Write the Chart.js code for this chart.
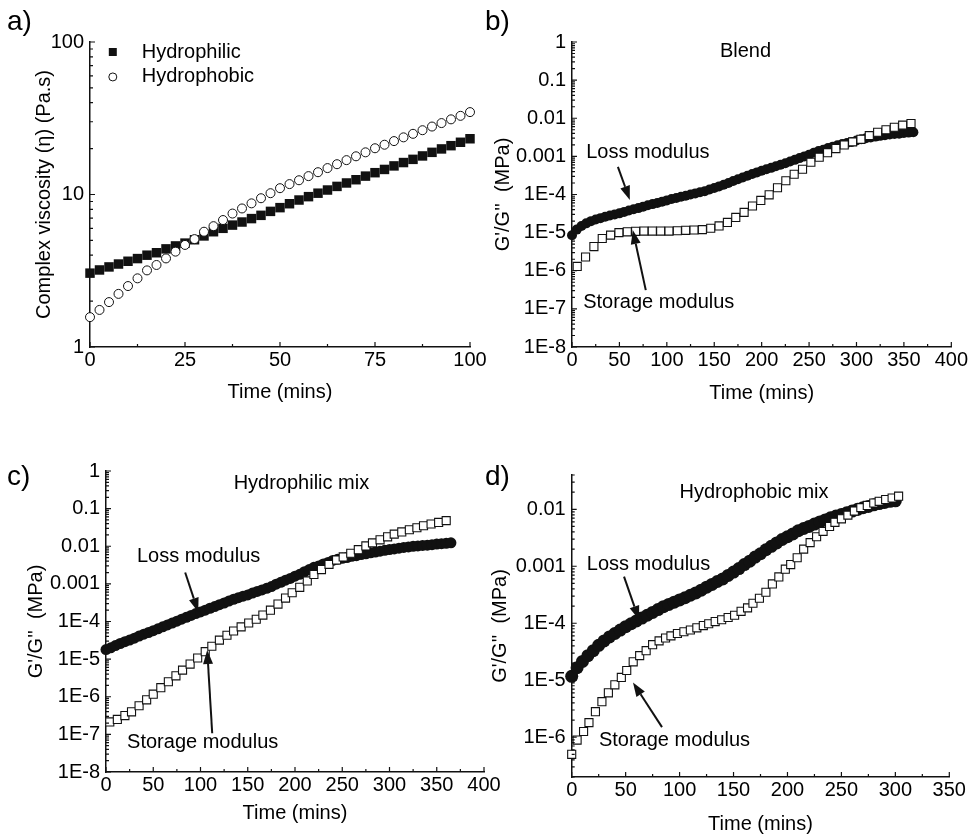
<!DOCTYPE html>
<html>
<head>
<meta charset="utf-8">
<title>Complex viscosity and G'/G'' against time</title>
<script src="https://cdn.jsdelivr.net/npm/chart.js@4.4.1/dist/chart.umd.min.js"></script>
<style>
  html, body { margin: 0; padding: 0; background: #fff; }
  #fig { position: relative; width: 969px; height: 834px; overflow: hidden; background: #fff; }
  #fig canvas { position: absolute; left: 0; top: 0; }
  .panel-tag { position: absolute; font: 28px/28px "Liberation Sans", Arial, sans-serif; color: #000; }
</style>
</head>
<body>
<div id="fig">
  <canvas id="chart-a" width="969" height="834"></canvas>
  <canvas id="chart-b" width="969" height="834"></canvas>
  <canvas id="chart-c" width="969" height="834"></canvas>
  <canvas id="chart-d" width="969" height="834"></canvas>
  <div class="panel-tag" style="left:7px;top:7px">a)</div>
  <div class="panel-tag" style="left:485px;top:7px">b)</div>
  <div class="panel-tag" style="left:7px;top:462px">c)</div>
  <div class="panel-tag" style="left:485px;top:462px">d)</div>
</div>
<script>
const FONT = '"Liberation Sans", Arial, Helvetica, sans-serif';
const INK = '#111';
Chart.defaults.font.family = FONT;
Chart.defaults.font.size = 20;
Chart.defaults.color = '#000';

// ---- a) complex viscosity (Pa.s) vs time (mins)
const aTime = [0, 2.5, 5, 7.5, 10, 12.5, 15, 17.5, 20, 22.5, 25, 27.5, 30, 32.5, 35, 37.5, 40, 42.5, 45, 47.5,
  50, 52.5, 55, 57.5, 60, 62.5, 65, 67.5, 70, 72.5, 75, 77.5, 80, 82.5, 85, 87.5, 90, 92.5, 95, 97.5, 100];
const aHydrophilic = [3.05, 3.2, 3.35, 3.5, 3.65, 3.8, 4.0, 4.15, 4.4, 4.6, 4.8, 5.05, 5.35, 5.7, 6.0, 6.3, 6.6, 6.95, 7.3, 7.75,
  8.2, 8.7, 9.2, 9.68, 10.2, 10.7, 11.3, 11.9, 12.5, 13.2, 13.9, 14.6, 15.4, 16.2, 17.0, 17.9, 18.9, 19.9, 20.9, 22.0, 23.2];
const aHydrophobic = [1.57, 1.75, 1.97, 2.23, 2.51, 2.82, 3.18, 3.45, 3.81, 4.22, 4.67, 5.1, 5.7, 6.2, 6.8, 7.5, 8.1, 8.75, 9.45, 10.2,
  11.0, 11.7, 12.4, 13.2, 14.0, 14.9, 15.8, 16.8, 17.8, 18.9, 20.1, 21.2, 22.4, 23.7, 25.0, 26.4, 27.9, 29.4, 31.1, 32.8, 34.7];
const aXTicks = [0, 25, 50, 75, 100];
const aYTicks = [1, 10, 100];
const aYLabels = ['1', '10', '100'];

// ---- b) blend, G' (storage) and G'' (loss) in MPa
const bLossTime = [0, 5, 10, 15, 20, 25, 30, 35, 40, 45, 50, 55, 60, 65, 70, 75, 80, 85, 90, 95, 100, 105, 110, 115, 120,
  125, 130, 135, 140, 145, 150, 155, 160, 165, 170, 175, 180, 185, 190, 195, 200, 205, 210, 215, 220, 225, 230, 235, 240,
  245, 250, 255, 260, 265, 270, 275, 280, 285, 290, 295, 300, 305, 310, 315, 320, 325, 330, 335, 340, 345, 350, 355, 360];
const bLoss = [8.5e-6, 1.2e-5, 1.5e-5, 1.75e-5, 2.0e-5, 2.2e-5, 2.4e-5, 2.6e-5, 2.8e-5, 3.0e-5, 3.2e-5, 3.5e-5, 3.8e-5,
  4.1e-5, 4.4e-5, 4.8e-5, 5.2e-5, 5.6e-5, 6.0e-5, 6.5e-5, 7.0e-5, 7.6e-5, 8.1e-5, 8.7e-5, 9.3e-5, 1.0e-4, 1.07e-4,
  1.14e-4, 1.22e-4, 1.35e-4, 1.48e-4, 1.63e-4, 1.8e-4, 2.0e-4, 2.25e-4, 2.5e-4, 2.8e-4, 3.1e-4, 3.45e-4, 3.8e-4,
  4.2e-4, 4.6e-4, 5.0e-4, 5.5e-4, 6.0e-4, 6.6e-4, 7.3e-4, 8.1e-4, 9.0e-4, 1.0e-3, 1.1e-3, 1.25e-3, 1.38e-3, 1.5e-3,
  1.65e-3, 1.8e-3, 1.95e-3, 2.1e-3, 2.25e-3, 2.4e-3, 2.6e-3, 2.8e-3, 3.0e-3, 3.15e-3, 3.3e-3, 3.45e-3, 3.6e-3,
  3.75e-3, 3.85e-3, 3.95e-3, 4.1e-3, 4.2e-3, 4.3e-3];
const bStorageTime = [5.5, 14.3, 23.1, 31.9, 40.7, 49.5, 58.3, 67.1, 75.9, 84.7, 93.5, 102.3, 111.1, 119.9, 128.7, 137.5,
  146.3, 155.1, 163.9, 172.7, 181.5, 190.3, 199.1, 207.9, 216.7, 225.5, 234.3, 243.1, 251.9, 260.7, 269.5, 278.3,
  287.1, 295.9, 304.7, 313.5, 322.3, 331.1, 339.9, 348.7, 357.5];
const bStorage = [1.3e-6, 2.3e-6, 4.3e-6, 7.0e-6, 8.6e-6, 1.0e-5, 1.05e-5, 1.08e-5, 1.1e-5, 1.1e-5, 1.1e-5, 1.1e-5,
  1.12e-5, 1.15e-5, 1.17e-5, 1.2e-5, 1.3e-5, 1.5e-5, 1.85e-5, 2.5e-5, 3.4e-5, 5.0e-5, 7.0e-5, 9.8e-5, 1.5e-4, 2.3e-4,
  3.4e-4, 4.6e-4, 7.0e-4, 9.5e-4, 1.25e-3, 1.6e-3, 2.0e-3, 2.4e-3, 2.8e-3, 3.5e-3, 4.3e-3, 5.0e-3, 5.8e-3, 6.6e-3, 7.3e-3];

// ---- c) hydrophilic mix
const cLossTime = [0, 5, 10, 15, 20, 25, 30, 35, 40, 45, 50, 55, 60, 65, 70, 75, 80, 85, 90, 95, 100, 105, 110, 115, 120,
  125, 130, 135, 140, 145, 150, 155, 160, 165, 170, 175, 180, 185, 190, 195, 200, 205, 210, 215, 220, 225, 230, 235, 240,
  245, 250, 255, 260, 265, 270, 275, 280, 285, 290, 295, 300, 305, 310, 315, 320, 325, 330, 335, 340, 345, 350, 355, 360, 365];
const cLoss = [1.8e-5, 2.0e-5, 2.3e-5, 2.6e-5, 2.9e-5, 3.2e-5, 3.6e-5, 4.1e-5, 4.6e-5, 5.1e-5,
  5.7e-5, 6.4e-5, 7.2e-5, 8.1e-5, 9.1e-5, 1.02e-4, 1.15e-4, 1.29e-4, 1.45e-4, 1.62e-4,
  1.8e-4, 2.0e-4, 2.25e-4, 2.5e-4, 2.8e-4, 3.1e-4, 3.5e-4, 3.9e-4, 4.3e-4, 4.7e-4,
  5.1e-4, 5.7e-4, 6.3e-4, 6.9e-4, 7.6e-4, 8.5e-4, 9.8e-4, 1.1e-3, 1.25e-3, 1.4e-3,
  1.6e-3, 1.8e-3, 2.1e-3, 2.4e-3, 2.75e-3, 3.0e-3, 3.4e-3, 3.7e-3, 4.2e-3, 4.5e-3,
  4.8e-3, 5.0e-3, 5.4e-3, 5.6e-3, 6.0e-3, 6.3e-3, 6.7e-3, 7.0e-3, 7.4e-3, 7.8e-3,
  8.2e-3, 8.5e-3, 8.9e-3, 9.3e-3, 9.6e-3, 1.0e-2, 1.02e-2, 1.05e-2, 1.07e-2, 1.1e-2,
  1.14e-2, 1.17e-2, 1.2e-2, 1.23e-2];
const cStorageTime = [4, 12, 20, 27, 35, 43, 50, 58, 66, 74, 81, 89, 97, 105, 112, 120, 128, 135, 143, 151, 159, 166, 174,
  182, 190, 197, 205, 213, 220, 228, 236, 244, 251, 259, 267, 275, 282, 290, 298, 305, 313, 321, 329, 336, 344, 352, 360];
const cStorage = [2.14e-7, 2.5e-7, 3.16e-7, 3.98e-7, 5.75e-7, 8.3e-7, 1.17e-6, 1.74e-6, 2.5e-6, 3.6e-6, 5.1e-6, 7.4e-6,
  1.07e-5, 1.58e-5, 2.2e-5, 3.2e-5, 4.3e-5, 5.6e-5, 7.2e-5, 9.1e-5, 1.15e-4, 1.48e-4, 2.0e-4, 2.9e-4, 4.2e-4, 5.8e-4,
  8.1e-4, 1.2e-3, 1.78e-3, 2.4e-3, 3.3e-3, 4.3e-3, 5.2e-3, 6.5e-3, 8.1e-3, 1.02e-2, 1.23e-2, 1.48e-2, 1.78e-2, 2.1e-2,
  2.4e-2, 2.75e-2, 3.1e-2, 3.5e-2, 3.9e-2, 4.3e-2, 4.8e-2];

// ---- d) hydrophobic mix
const dLossTime = [0, 5, 10, 15, 20, 25, 30, 35, 40, 45, 50, 55, 60, 65, 70, 75, 80, 85, 90, 95, 100, 105, 110, 115, 120,
  125, 130, 135, 140, 145, 150, 155, 160, 165, 170, 175, 180, 185, 190, 195, 200, 205, 210, 215, 220, 225, 230, 235, 240,
  245, 250, 255, 260, 265, 270, 275, 280, 285, 290, 295, 300];
const dLoss = [1.17e-5, 1.66e-5, 2.14e-5, 2.7e-5, 3.3e-5, 4.1e-5, 4.9e-5, 5.75e-5, 6.6e-5, 7.6e-5,
  8.7e-5, 9.8e-5, 1.1e-4, 1.23e-4, 1.38e-4, 1.55e-4, 1.74e-4, 1.95e-4, 2.14e-4, 2.34e-4,
  2.57e-4, 2.8e-4, 3.1e-4, 3.4e-4, 3.8e-4, 4.3e-4, 4.8e-4, 5.4e-4, 6.0e-4, 6.9e-4,
  7.9e-4, 9.1e-4, 1.07e-3, 1.23e-3, 1.45e-3, 1.66e-3, 1.95e-3, 2.24e-3, 2.57e-3, 2.95e-3,
  3.3e-3, 3.7e-3, 4.2e-3, 4.6e-3, 5.0e-3, 5.5e-3, 6.0e-3, 6.5e-3, 7.1e-3, 7.6e-3,
  8.1e-3, 8.7e-3, 9.3e-3, 1.0e-2, 1.07e-2, 1.12e-2, 1.2e-2, 1.26e-2, 1.32e-2, 1.38e-2, 1.41e-2];
const dStorageTime = [0, 5, 11, 16, 22, 28, 34, 40, 46, 51, 57, 63, 69, 75, 81, 87, 92, 98, 104, 110, 116, 122, 127, 133,
  139, 145, 151, 157, 163, 168, 174, 180, 186, 192, 198, 203, 209, 215, 221, 227, 233, 239, 244, 250, 256, 262, 268,
  274, 280, 285, 291, 297, 303];
const dStorage = [5.0e-7, 8.9e-7, 1.26e-6, 1.8e-6, 2.8e-6, 4.2e-6, 6.0e-6, 8.3e-6, 1.12e-5, 1.48e-5, 2.1e-5, 2.7e-5,
  3.3e-5, 4.2e-5, 4.9e-5, 5.5e-5, 6.0e-5, 6.6e-5, 7.1e-5, 7.6e-5, 8.3e-5, 9.1e-5, 9.8e-5, 1.07e-4, 1.15e-4, 1.26e-4,
  1.38e-4, 1.62e-4, 1.86e-4, 2.24e-4, 2.75e-4, 3.5e-4, 4.9e-4, 6.5e-4, 8.9e-4, 1.07e-3, 1.41e-3, 2.0e-3, 2.6e-3,
  3.3e-3, 4.1e-3, 5.0e-3, 5.9e-3, 6.8e-3, 7.9e-3, 9.3e-3, 1.07e-2, 1.17e-2, 1.29e-2, 1.38e-2, 1.48e-2, 1.58e-2, 1.7e-2];

// shared tick lists for the modulus panels
const timeTicks400 = [0, 50, 100, 150, 200, 250, 300, 350, 400];
const timeTicks350 = [0, 50, 100, 150, 200, 250, 300, 350];
const modTicks = [1e-8, 1e-7, 1e-6, 1e-5, 1e-4, 1e-3, 1e-2, 1e-1, 1];
const modLabels = ['1E-8', '1E-7', '1E-6', '1E-5', '1E-4', '0.001', '0.01', '0.1', '1'];
const dModTicks = [1e-6, 1e-5, 1e-4, 1e-3, 1e-2];
const dModLabels = ['1E-6', '1E-5', '1E-4', '0.001', '0.01'];

function pts(xs, ys) {
  return xs.map((x, i) => ({ x: x, y: ys[i] }));
}

// inward tick marks, text notes, arrows and the little legend of panel a
const axisMarks = {
  id: 'axisMarks',
  afterDatasetsDraw(chart, args, opts) {
    const { ctx, chartArea: ca, scales: { x, y } } = chart;
    ctx.save();
    ctx.strokeStyle = INK;
    ctx.lineWidth = 1.2;
    ctx.beginPath();
    x.ticks.forEach((t, i) => {
      const p = x.getPixelForValue(t.value);
      ctx.moveTo(p, ca.bottom);
      ctx.lineTo(p, ca.bottom - 5);
      const next = x.ticks[i + 1];
      if (next) {
        const m = x.getPixelForValue((t.value + next.value) / 2);
        ctx.moveTo(m, ca.bottom);
        ctx.lineTo(m, ca.bottom - 3);
      }
    });
    y.ticks.forEach(t => {
      const p = y.getPixelForValue(t.value);
      ctx.moveTo(ca.left, p);
      ctx.lineTo(ca.left + 5, p);
    });
    if (opts.logMinor) {
      const e0 = Math.floor(Math.log10(y.min));
      const e1 = Math.floor(Math.log10(y.max));
      for (let e = e0; e <= e1; e++) {
        for (let m = 2; m <= 9; m++) {
          const v = m * Math.pow(10, e);
          if (v < y.min * 0.999 || v > y.max * 1.001) continue;
          const p = y.getPixelForValue(v);
          ctx.moveTo(ca.left, p);
          ctx.lineTo(ca.left + 3, p);
        }
      }
    }
    ctx.stroke();

    // arrows
    ctx.fillStyle = INK;
    ctx.lineWidth = 2;
    (opts.arrows || []).forEach(a => {
      const x1 = x.getPixelForValue(a.from[0]), y1 = y.getPixelForValue(a.from[1]);
      const x2 = x.getPixelForValue(a.to[0]), y2 = y.getPixelForValue(a.to[1]);
      const ang = Math.atan2(y2 - y1, x2 - x1);
      const head = 14, half = 5;
      const bx = x2 - head * Math.cos(ang), by = y2 - head * Math.sin(ang);
      ctx.beginPath();
      ctx.moveTo(x1, y1);
      ctx.lineTo(bx, by);
      ctx.stroke();
      ctx.beginPath();
      ctx.moveTo(x2, y2);
      ctx.lineTo(bx + half * Math.sin(ang), by - half * Math.cos(ang));
      ctx.lineTo(bx - half * Math.sin(ang), by + half * Math.cos(ang));
      ctx.closePath();
      ctx.fill();
    });

    // text notes
    ctx.font = '20px ' + FONT;
    ctx.fillStyle = '#000';
    ctx.textBaseline = 'middle';
    ctx.textAlign = 'center';
    (opts.notes || []).forEach(n => {
      ctx.fillText(n.text, x.getPixelForValue(n.x), y.getPixelForValue(n.y));
    });

    // legend keys
    ctx.textAlign = 'left';
    (opts.keys || []).forEach(k => {
      const px = x.getPixelForValue(k.x), py = y.getPixelForValue(k.y);
      ctx.beginPath();
      if (k.style === 'rect') {
        ctx.rect(px - 4, py - 4, 8, 8);
        ctx.fillStyle = INK;
        ctx.fill();
      } else {
        ctx.arc(px, py, 4, 0, Math.PI * 2);
        ctx.fillStyle = '#fff';
        ctx.fill();
        ctx.lineWidth = 1;
        ctx.stroke();
      }
      ctx.fillStyle = '#000';
      ctx.fillText(k.text, px + 29, py);
    });
    ctx.restore();
  }
};

function lossSet(xs, ys, r) {
  return {
    label: 'Loss modulus', data: pts(xs, ys), order: 1, clip: false,
    pointStyle: 'circle', pointRadius: r, pointHoverRadius: r,
    pointBackgroundColor: INK, pointBorderColor: INK, pointBorderWidth: 0
  };
}

function storageSet(xs, ys) {
  return {
    label: 'Storage modulus', data: pts(xs, ys), order: 0, clip: false,
    pointStyle: 'rect', pointRadius: 5.7, pointHoverRadius: 5.7,
    pointBackgroundColor: '#fff', pointBorderColor: INK, pointBorderWidth: 1.1
  };
}

function makePanel(id, cfg) {
  return new Chart(document.getElementById(id), {
    type: 'scatter',
    data: { datasets: cfg.datasets },
    options: {
      responsive: false,
      animation: false,
      events: [],
      devicePixelRatio: 1,
      layout: { padding: cfg.pad, autoPadding: false },
      plugins: {
        legend: { display: false },
        tooltip: { enabled: false },
        axisMarks: cfg.marks
      },
      scales: {
        x: {
          type: 'linear',
          min: cfg.xMin,
          max: cfg.xMax,
          afterBuildTicks: s => { s.ticks = cfg.xTicks.map(v => ({ value: v })); },
          afterFit: s => { s.height = cfg.xHeight; },
          grid: { display: false, drawTicks: false },
          border: { display: true, color: INK, width: 1.5 },
          ticks: { padding: 1, autoSkip: false, maxRotation: 0, callback: v => String(v) },
          title: { display: true, text: 'Time (mins)', padding: 0, font: { lineHeight: 1 } }
        },
        y: {
          type: 'logarithmic',
          min: cfg.yMin,
          max: cfg.yMax,
          afterBuildTicks: s => { s.ticks = cfg.yTicks.map(v => ({ value: v })); },
          afterFit: s => { s.width = cfg.yWidth; },
          grid: { display: false, drawTicks: false },
          border: { display: true, color: INK, width: 1.5 },
          ticks: { padding: 6, autoSkip: false, callback: (v, i) => cfg.yLabels[i] },
          title: { display: true, text: cfg.yTitle, padding: 0, font: { lineHeight: 1 } }
        }
      }
    },
    plugins: [axisMarks]
  });
}

const modTitle = "G'/G''  (MPa)";

makePanel('chart-a', {
  datasets: [
    {
      label: 'Hydrophobic', data: pts(aTime, aHydrophobic), order: 0, clip: false,
      pointStyle: 'circle', pointRadius: 4.5, pointHoverRadius: 4.5,
      pointBackgroundColor: '#fff', pointBorderColor: INK, pointBorderWidth: 1
    },
    {
      label: 'Hydrophilic', data: pts(aTime, aHydrophilic), order: 1, clip: false,
      pointStyle: 'rect', pointRadius: 6.7, pointHoverRadius: 6.7,
      pointBackgroundColor: INK, pointBorderColor: INK, pointBorderWidth: 0
    }
  ],
  pad: { left: 34, right: 499, top: 42, bottom: 432 },
  xMin: 0, xMax: 100, xTicks: aXTicks, xHeight: 55,
  yMin: 1, yMax: 100, yTicks: aYTicks, yLabels: aYLabels, yWidth: 56,
  yTitle: 'Complex viscosity (\u03b7) (Pa.s)',
  marks: {
    logMinor: true,
    keys: [
      { style: 'rect', x: 6, y: 86, text: 'Hydrophilic' },
      { style: 'circle', x: 6, y: 59, text: 'Hydrophobic' }
    ]
  }
});

makePanel('chart-b', {
  datasets: [storageSet(bStorageTime, bStorage), lossSet(bLossTime, bLoss, 5)],
  pad: { left: 493, right: 17, top: 42, bottom: 431 },
  xMin: 0, xMax: 400, xTicks: timeTicks400, xHeight: 56,
  yMin: 1e-8, yMax: 1, yTicks: modTicks, yLabels: modLabels, yWidth: 79,
  yTitle: modTitle,
  marks: {
    logMinor: true,
    notes: [
      { text: 'Blend', x: 183, y: 0.556 },
      { text: 'Loss modulus', x: 80, y: 1.23e-3 },
      { text: 'Storage modulus', x: 91.5, y: 1.5e-7 }
    ],
    arrows: [
      { from: [48.4, 5.3e-4], to: [61, 7.2e-5] },
      { from: [77.8, 3.1e-7], to: [64.1, 1.17e-5] }
    ]
  }
});

makePanel('chart-c', {
  datasets: [storageSet(cStorageTime, cStorage), lossSet(cLossTime, cLoss, 5.5)],
  pad: { left: 26, right: 485, top: 471, bottom: 11 },
  xMin: 0, xMax: 400, xTicks: timeTicks400, xHeight: 51,
  yMin: 1e-8, yMax: 1, yTicks: modTicks, yLabels: modLabels, yWidth: 80,
  yTitle: modTitle,
  marks: {
    logMinor: true,
    notes: [
      { text: 'Hydrophilic mix', x: 206.8, y: 0.48 },
      { text: 'Loss modulus', x: 98, y: 5.5e-3 },
      { text: 'Storage modulus', x: 102.3, y: 6.2e-8 }
    ],
    arrows: [
      { from: [83.8, 2.0e-3], to: [97.6, 1.8e-4] },
      { from: [112.4, 1.07e-7], to: [107.1, 1.74e-5] }
    ]
  }
});

makePanel('chart-d', {
  datasets: [storageSet(dStorageTime, dStorage), lossSet(dLossTime, dLoss, 6.5)],
  pad: { left: 490, right: 19.7, top: 475, bottom: 0 },
  xMin: 0, xMax: 350, xTicks: timeTicks350, xHeight: 57,
  yMin: 2e-7, yMax: 0.04, yTicks: dModTicks, yLabels: dModLabels, yWidth: 81.7,
  yTitle: modTitle,
  marks: {
    logMinor: true,
    notes: [
      { text: 'Hydrophobic mix', x: 169, y: 0.02 },
      { text: 'Loss modulus', x: 71.2, y: 1.07e-3 },
      { text: 'Storage modulus', x: 95.3, y: 8.9e-7 }
    ],
    arrows: [
      { from: [48.5, 6.6e-4], to: [62.4, 1.15e-4] },
      { from: [83.7, 1.5e-6], to: [56.8, 9.1e-6] }
    ]
  }
});
</script>
</body>
</html>
